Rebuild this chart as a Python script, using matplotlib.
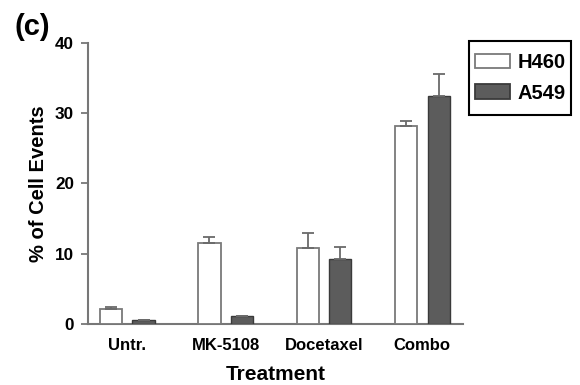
import matplotlib
matplotlib.use("Agg")
import matplotlib.pyplot as plt
from matplotlib.patches import Rectangle
import numpy as np

plt.rcParams['font.family'] = ['Liberation Sans', 'DejaVu Sans']
plt.rcParams['font.weight'] = 'bold'

categories = ["Untr.", "MK-5108", "Docetaxel", "Combo"]
h460 = [2.2, 11.5, 10.8, 28.1]
h460_err = [0.15, 0.9, 2.2, 0.7]
a549 = [0.5, 1.1, 9.2, 32.4]
a549_err = [0.0, 0.0, 1.7, 3.1]
yticks = [0, 10, 20, 30, 40]

W, H = 580, 385
fig = plt.figure(figsize=(5.8, 3.85), dpi=100)
ax = fig.add_axes([0.1517, 0.1584, 0.646, 0.7306])

x = np.arange(len(categories))
w = 0.225
off = 0.165
ax.bar(x - off, h460, w, color='white', edgecolor='#7a7a7a', linewidth=1.3,
       yerr=[np.zeros(len(h460)), h460_err], ecolor='#6a6a6a',
       error_kw=dict(elinewidth=1.3, capsize=4.3, capthick=1.3), label='H460', zorder=3)
ax.bar(x + off, a549, w, color='#5c5c5c', edgecolor='#3a3a3a', linewidth=1.0,
       yerr=[np.zeros(len(a549)), a549_err], ecolor='#6a6a6a',
       error_kw=dict(elinewidth=1.3, capsize=4.3, capthick=1.3), label='A549', zorder=3)

ax.set_xlim(-0.40, 3.41)
ax.set_ylim(0, 40)
ax.set_yticks(yticks)
ax.set_xticks(x)
ax.set_xticklabels(categories, fontsize=12, fontweight='bold')
ax.tick_params(axis='x', length=0, pad=10)
ax.tick_params(axis='y', length=5, width=1.3, color='#777777', labelsize=12.3, pad=5)
for lab in ax.get_yticklabels():
    lab.set_fontweight('bold')
for s in ['top', 'right']:
    ax.spines[s].set_visible(False)
for s in ['left', 'bottom']:
    ax.spines[s].set_color('#777777')
    ax.spines[s].set_linewidth(1.5)

ax.set_xlabel('Treatment', fontsize=15, fontweight='bold', labelpad=9)
ax.set_ylabel('% of Cell Events', fontsize=14.5, fontweight='bold', labelpad=5)

fig.text(0.025, 0.91, '(c)', fontsize=21, fontweight='bold')

leg = fig.legend(loc='upper left', bbox_to_anchor=(475 / W, 1 - 53 / H), frameon=False,
                 fontsize=14.5, handlelength=1.75, handleheight=0.75, borderpad=0,
                 labelspacing=0.58, handletextpad=0.35, borderaxespad=0)
for t in leg.get_texts():
    t.set_fontweight('bold')
for h in leg.legend_handles:
    h.set_linewidth(1.3)

fig.add_artist(Rectangle((469 / W, 1 - 115 / H), 102 / W, 74 / H, transform=fig.transFigure,
                         fill=False, edgecolor='black', linewidth=1.5))

fig.savefig('out.png', dpi=100)
